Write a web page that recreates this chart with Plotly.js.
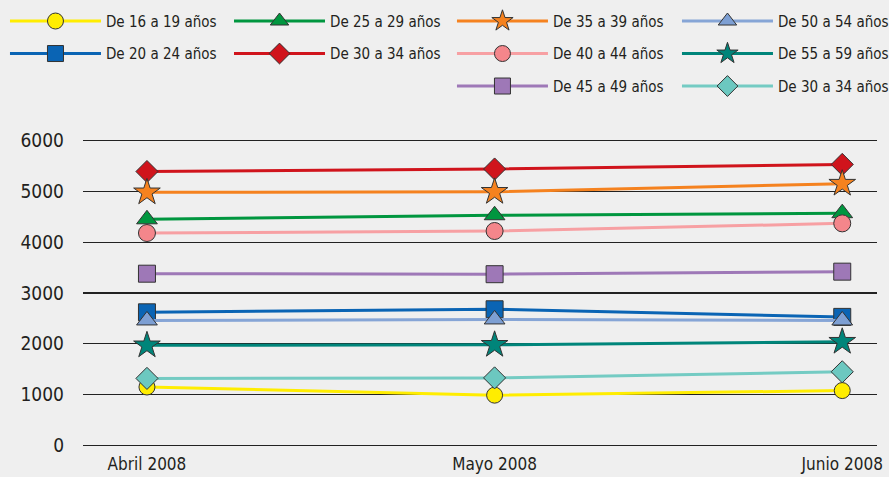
<!DOCTYPE html>
<html><head><meta charset="utf-8">
<script src="https://cdn.plot.ly/plotly-3.0.1.min.js"></script>
<style>body{margin:0;background:#efefef}#c{width:889px;height:477px}</style>
</head><body><div id="c"></div>
<script>
const months = ["Abril 2008", "Mayo 2008", "Junio 2008"];
const names = ["De 16 a 19 años","De 20 a 24 años","De 25 a 29 años","De 30 a 34 años","De 35 a 39 años","De 40 a 44 años","De 45 a 49 años","De 50 a 54 años","De 55 a 59 años","De 30 a 34 años"];
const v16_19 = [1150, 990, 1080];
const v20_24 = [2620, 2680, 2530];
const v25_29 = [4450, 4530, 4570];
const v30_34 = [5390, 5440, 5530];
const v35_39 = [4980, 4990, 5150];
const v40_44 = [4180, 4220, 4370];
const v45_49 = [3380, 3370, 3420];
const v50_54 = [2460, 2480, 2460];
const v55_59 = [1970, 1980, 2040];
const v30_34b = [1320, 1330, 1450];
const yTicks = [0, 1000, 2000, 3000, 4000, 5000, 6000];

const series = [v16_19, v20_24, v25_29, v30_34, v35_39, v40_44, v45_49, v50_54, v55_59, v30_34b];
const lineColors = ["#ffed00","#0a64b4","#00963f","#d0141c","#f5821f","#f7a0a3","#9e78b7","#86a5d6","#00857a","#74cbc3"];
const markColors = ["#ffed00","#0a64b4","#00963f","#d0141c","#f5821f","#f4868b","#9e78b7","#7d9fd3","#00857a","#6cc8c0"];
const symbols = ["circle","square","triangle-up","diamond","star","circle","square","triangle-up","star","diamond"];
const sizes = [16,17,18,17,20,17,17,18,20,17];
const legendOf = ["legend","legend","legend2","legend2","legend3","legend3","legend3","legend4","legend4","legend4"];

const traces = series.map((s,i)=>({
  x: months, y: s, name: names[i], type: "scatter", mode: "lines+markers",
  line: {color: lineColors[i], width: 3},
  marker: {symbol: symbols[i], size: sizes[i], color: markColors[i], line: {color: "#333", width: 1}},
  legend: legendOf[i], legendgroup: "g"+i
}));

const font = {family: "DejaVu Sans Condensed, sans-serif", color: "#231f20"};
const legBase = {orientation: "v", bgcolor: "rgba(0,0,0,0)", font: Object.assign({}, font, {size: 15}), itemwidth: 91, tracegroupgap: 10, xanchor: "left", yanchor: "top", y: 0.99, yref: "container", xref: "container"};

const layout = {
  width: 889, height: 477,
  paper_bgcolor: "#efefef", plot_bgcolor: "#efefef",
  margin: {l: 83, r: 12, t: 139, b: 30, autoexpand: false},
  font: font,
  xaxis: {type: "category", range: [-0.184, 2.10], showgrid: false, zeroline: false, showline: false,
          ticks: "", tickfont: Object.assign({}, font, {size: 17}), ticklabelstandoff: 5, fixedrange: true},
  yaxis: {range: [-30, 6030], tickvals: yTicks, ticktext: yTicks.map(String), showgrid: true, gridcolor: "#222", gridwidth: 1.3,
          zeroline: false, showline: false, ticks: "", tickfont: Object.assign({}, font, {size: 19}), ticklabelstandoff: 18, fixedrange: true},
  showlegend: true,
  legend: Object.assign({}, legBase, {x: 0.0056}),
  legend2: Object.assign({}, legBase, {x: 0.2576}),
  legend3: Object.assign({}, legBase, {x: 0.5084}),
  legend4: Object.assign({}, legBase, {x: 0.7615})
};
Plotly.newPlot("c", traces, layout, {displayModeBar: false, staticPlot: true});
</script></body></html>
